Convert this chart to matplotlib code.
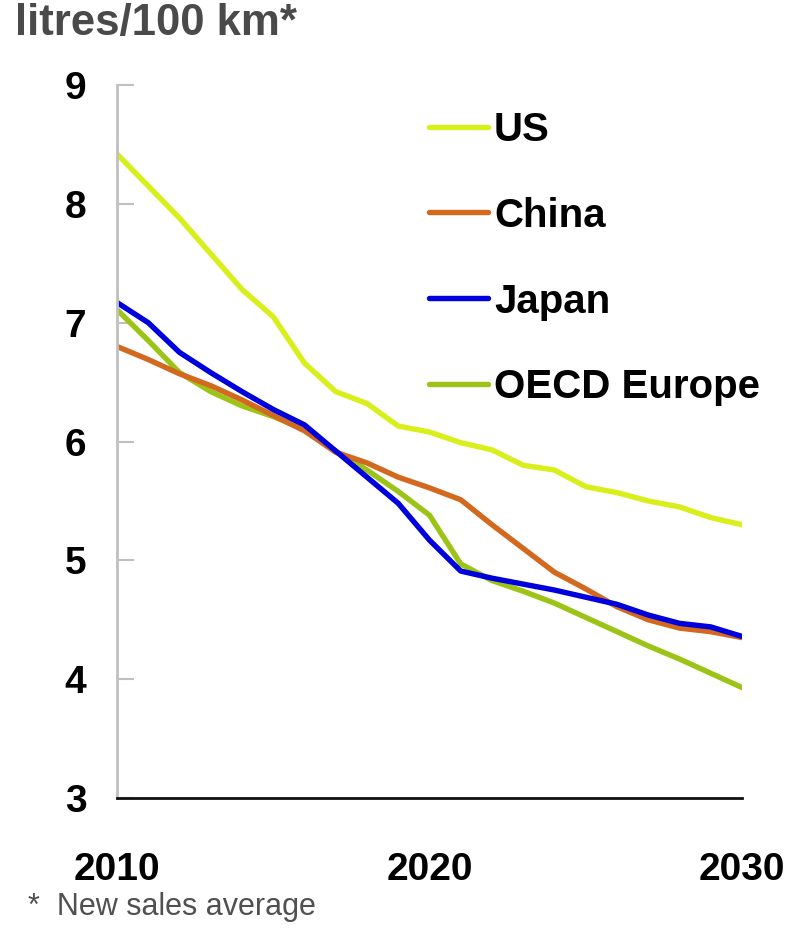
import matplotlib
matplotlib.use("Agg")
import matplotlib.pyplot as plt

years = list(range(2010, 2031))
us = [8.42, 8.15, 7.88, 7.58, 7.28, 7.05, 6.66, 6.42, 6.32, 6.13, 6.08,
      5.99, 5.93, 5.80, 5.76, 5.62, 5.57, 5.50, 5.45, 5.36, 5.30]
china = [6.80, 6.69, 6.57, 6.47, 6.35, 6.22, 6.09, 5.91, 5.82, 5.70, 5.61,
         5.51, 5.30, 5.10, 4.90, 4.76, 4.61, 4.50, 4.43, 4.40, 4.35]
japan = [7.17, 7.00, 6.75, 6.58, 6.42, 6.27, 6.14, 5.92, 5.70, 5.48, 5.17,
         4.91, 4.85, 4.80, 4.75, 4.69, 4.63, 4.54, 4.47, 4.44, 4.36]
europe = [7.11, 6.85, 6.58, 6.42, 6.30, 6.21, 6.10, 5.92, 5.76, 5.58, 5.38,
          4.97, 4.83, 4.74, 4.64, 4.52, 4.40, 4.28, 4.17, 4.05, 3.93]
series_names = ["US", "China", "Japan", "OECD Europe"]
series_colors = ["#d8ef1c", "#d2691e", "#0000dd", "#9cc416"]
y_ticks = [3, 4, 5, 6, 7, 8, 9]
x_ticks = [2010, 2020, 2030]

plt.rcParams['font.family'] = ['Liberation Sans', 'DejaVu Sans']

fig = plt.figure(figsize=(8.05, 9.36), dpi=100)
ax = fig.add_axes([0.1453, 0.1474, 0.7764, 0.7618])

# draw order: Europe under others
for name, vals, col in [("OECD Europe", europe, series_colors[3]),
                        ("China", china, series_colors[1]),
                        ("Japan", japan, series_colors[2]),
                        ("US", us, series_colors[0])]:
    ax.plot(years, vals, color=col, lw=3.9, solid_capstyle='round',
            solid_joinstyle='round', label=name)

ax.set_xlim(2010, 2030)
ax.set_ylim(3, 9)
ax.set_yticks(y_ticks)
ax.set_xticks(x_ticks)
ax.set_yticklabels([str(v) for v in y_ticks], fontsize=28, fontweight='bold')
ax.set_xticklabels([str(v) for v in x_ticks], fontsize=28, fontweight='bold')
ax.tick_params(axis='y', direction='in', length=12, width=1.5, color='#c0c0c0', pad=22)
ax.tick_params(axis='x', length=0, pad=39)

for s in ['top', 'right']:
    ax.spines[s].set_visible(False)
ax.spines['left'].set_color('#c0c0c0')
ax.spines['left'].set_linewidth(2)
ax.spines['bottom'].set_color('#111111')
ax.spines['bottom'].set_linewidth(2)

handles, labels = ax.get_legend_handles_labels()
order = [labels.index(n) for n in series_names]
leg = ax.legend([handles[i] for i in order], [labels[i] for i in order],
                loc='upper left', bbox_to_anchor=(0.5, 0.964), frameon=False,
                borderpad=0, borderaxespad=0, handlelength=1.45, handletextpad=0.15,
                labelspacing=1.19, prop={'size': 29, 'weight': 'bold'})

fig.text(15 / 805, 1 - 23 / 936, "litres/100 km*", fontsize=31.5, fontweight='bold',
         color='#4a4a4a', ha='left', va='center')
fig.text(28 / 805, 1 - 907 / 936, "*  New sales average", fontsize=22,
         color='#505050', ha='left', va='center')

fig.savefig("out.png", dpi=100)
